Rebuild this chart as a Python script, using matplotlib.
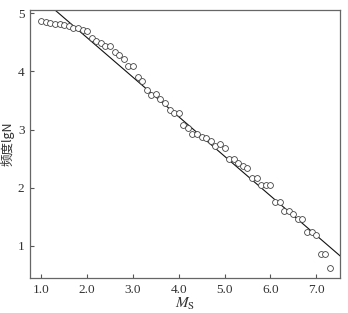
import numpy as np
import matplotlib
matplotlib.use('Agg')
import matplotlib.pyplot as plt

plt.rcParams['mathtext.fontset'] = 'stix'

# magnitude Ms and cumulative frequency lgN
ms = [1.0, 1.1, 1.2, 1.3, 1.4, 1.5, 1.6, 1.7, 1.8, 1.9,
      2.0, 2.1, 2.2, 2.3, 2.4, 2.5, 2.6, 2.7, 2.8, 2.9,
      3.0, 3.1, 3.2, 3.3, 3.4, 3.5, 3.6, 3.7, 3.8, 3.9,
      4.0, 4.1, 4.2, 4.3, 4.4, 4.5, 4.6, 4.7, 4.8, 4.9,
      5.0, 5.1, 5.2, 5.3, 5.4, 5.5, 5.6, 5.7, 5.8, 5.9,
      6.0, 6.1, 6.2, 6.3, 6.4, 6.5, 6.6, 6.7, 6.8, 6.9,
      7.0, 7.1, 7.2, 7.3]
lgN = [4.87, 4.85, 4.83, 4.82, 4.81, 4.80, 4.79, 4.74, 4.74, 4.71,
       4.70, 4.57, 4.53, 4.49, 4.43, 4.44, 4.34, 4.28, 4.21, 4.10,
       4.10, 3.90, 3.83, 3.68, 3.59, 3.61, 3.53, 3.46, 3.34, 3.29,
       3.29, 3.08, 3.02, 2.92, 2.92, 2.87, 2.86, 2.81, 2.72, 2.75,
       2.69, 2.49, 2.49, 2.43, 2.38, 2.34, 2.16, 2.16, 2.05, 2.04,
       2.04, 1.76, 1.76, 1.60, 1.60, 1.55, 1.46, 1.46, 1.24, 1.24,
       1.19, 0.85, 0.85, 0.61]

# fitted line lgN = a - b*Ms
a, b = 5.94, 0.68

xticks = [1.0, 2.0, 3.0, 4.0, 5.0, 6.0, 7.0]
xtick_labels = ['1.0', '2.0', '3.0', '4.0', '5.0', '6.0', '7.0']
yticks = [1, 2, 3, 4, 5]

fig = plt.figure(figsize=(3.48, 3.13), dpi=100)
ax = fig.add_axes([0.0862, 0.1118, 0.8908, 0.8562])

ax.plot(ms, lgN, 'o', ms=4.2, mfc='white', mec='#444444', mew=0.6, zorder=3)
xl = np.array([0.75, 7.52])
ax.plot(xl, a - b * xl, '-', color='#111111', lw=0.8, zorder=2)

ax.set_xlim(0.753, 7.52)
ax.set_ylim(0.444, 5.057)

ax.set_xticks(xticks)
ax.set_xticklabels(xtick_labels)
ax.set_yticks(yticks)
ax.tick_params(direction='in', length=3, width=0.8, color='#555555',
               labelsize=9.5, labelcolor='#333333', pad=4)
for lab in ax.get_xticklabels() + ax.get_yticklabels():
    lab.set_family('Liberation Serif')

for sp in ax.spines.values():
    sp.set_color('#666666')
    sp.set_linewidth(0.9)

ax.set_xlabel(r'$M_\mathrm{S}$', fontsize=11, color='#333333', labelpad=0)
ax.set_ylabel('频度lgN', fontsize=9, color='#333333', labelpad=2,
              family=['Noto Sans CJK SC', 'DejaVu Sans'])

fig.savefig('out.png', dpi=100)
